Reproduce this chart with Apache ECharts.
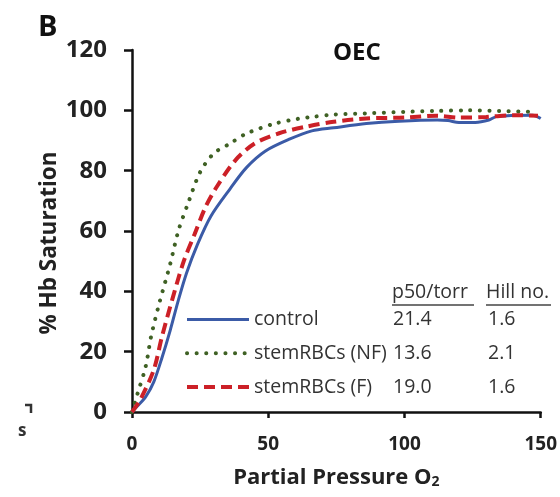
<!DOCTYPE html>
<html>
<head>
<meta charset="utf-8">
<script src="https://cdn.jsdelivr.net/npm/echarts@6/dist/echarts.min.js"></script>
<style>
html,body{margin:0;padding:0;background:#fff;}
#chart{width:560px;height:497px;}
</style>
</head>
<body>
<div id="chart"></div>
<script>
// ---- data ----
const seriesNames = ['control', 'stemRBCs (NF)', 'stemRBCs (F)'];
const p50Values = ['21.4', '13.6', '19.0'];
const hillValues = ['1.6', '2.1', '1.6'];
const tableHeaders = ['p50/torr', 'Hill no.'];
const xTicks = [0, 50, 100, 150];
const yTicks = [0, 20, 40, 60, 80, 100, 120];

const controlData = [[0,0],[2,2],[5,5],[8,10],[11,18],[14,27],[17,37],[20,46],[24,55.5],[29,65],[36,74],[42,81],[49,86.5],[58,90.5],[66,93.2],[74,94.2],[86,95.6],[98,96.4],[112,96.8],[116,96.6],[120,96],[126,96],[131,96.8],[134,98],[147,98.4],[150,97.3]];
const nfData = [[0,0],[2,6],[5,15],[7,25],[10,36],[14,49],[17,60],[20.5,69],[25,79.5],[30,85.7],[36,89],[42,92.3],[52,95.5],[61,97.2],[66,97.8],[74,98.6],[86,99],[100,99.5],[112,99.8],[123,100],[135,99.8],[148,99.5]];
const fData = [[0,0],[3,4],[8,14],[11,25],[15,38],[19,50],[23,59],[27,68],[31,74.5],[38,83.5],[45,89],[54,92.4],[64,94.6],[74,96.2],[86,97.3],[100,97.6],[112,98.2],[120,97.6],[130,97.8],[140,98.4],[149,98.2]];

const FONT = '"Open Sans", "Liberation Sans", sans-serif';
const chart = echarts.init(document.getElementById('chart'));

const colors = ['#3B5BA7', '#3F6124', '#CC2027'];
const lineStyles = [
  { color: colors[0], width: 3 },
  { color: colors[1], width: 4, type: [0.1, 9.5], cap: 'round' },
  { color: colors[2], width: 4, type: [11, 6] }
];

const tableByName = {};
seriesNames.forEach((n, i) => { tableByName[n] = [p50Values[i], hillValues[i]]; });

chart.setOption({
  backgroundColor: '#fff',
  animation: false,
  title: {
    text: 'OEC',
    left: 328, top: 36,
    textStyle: { fontFamily: FONT, fontWeight: 'bold', fontSize: 24, color: '#111' }
  },
  grid: { left: 132, right: 17, top: 50, bottom: 85, containLabel: false },
  legend: {
    orient: 'vertical',
    left: 180, top: 304,
    itemWidth: 62, itemHeight: 26, itemGap: 13,
    selectedMode: false,
    data: seriesNames.map((n, i) => ({ name: n, itemStyle: { opacity: 0 }, lineStyle: lineStyles[i] })),
    itemStyle: { opacity: 0 },
    formatter: function (name) {
      const t = tableByName[name];
      return '{a|' + name + '}{b|' + t[0] + '}{c|' + t[1] + '}';
    },
    textStyle: {
      fontFamily: FONT, fontSize: 19.5, color: '#333',
      rich: {
        a: { width: 139, fontFamily: FONT, fontSize: 19.5, color: '#333' },
        b: { width: 95, fontFamily: FONT, fontSize: 19.5, color: '#333' },
        c: { fontFamily: FONT, fontSize: 19.5, color: '#333' }
      }
    }
  },
  xAxis: {
    type: 'value', min: 0, max: 150, interval: 50,
    name: 'Partial Pressure O{sub|2}',
    nameLocation: 'middle', nameGap: 55,
    nameTextStyle: {
      fontFamily: FONT, fontWeight: 'bold', fontSize: 22, color: '#222',
      rich: {
        sub: { fontFamily: FONT, fontWeight: 'bold', fontSize: 14, color: '#222', verticalAlign: 'bottom', lineHeight: 12 }
      }
    },
    splitLine: { show: false },
    axisLine: { lineStyle: { color: '#111', width: 2.5 } },
    axisTick: { inside: false, length: 6, lineStyle: { color: '#111', width: 2.5 } },
    axisLabel: { margin: 23, fontFamily: FONT, fontWeight: 'bold', fontSize: 19, color: '#222',
      formatter: v => xTicks.includes(v) ? String(v) : '' }
  },
  yAxis: {
    type: 'value', min: 0, max: 120, interval: 20,
    splitLine: { show: false },
    axisLine: { lineStyle: { color: '#111', width: 2.5 } },
    axisTick: { inside: false, length: 8, lineStyle: { color: '#111', width: 2.5 } },
    axisLabel: { margin: 25, fontFamily: FONT, fontWeight: 'bold', fontSize: 24, color: '#222',
      formatter: v => yTicks.includes(v) ? String(v) : '' }
  },
  series: seriesNames.map((n, i) => ({
    name: n, type: 'line', data: [controlData, nfData, fData][i],
    showSymbol: false, symbol: 'none', smooth: 0.3,
    lineStyle: lineStyles[i], itemStyle: { color: colors[i] }, z: [3, 2, 4][i]
  })),
  graphic: [
    { type: 'text', left: 38, top: 13, style: { text: 'B', fontFamily: FONT, fontWeight: 'bold', fontSize: 29, fill: '#111' } },
    { type: 'text', x: 50, y: 243, rotation: Math.PI / 2,
      style: { text: '% Hb Saturation', fontFamily: FONT, fontWeight: 'bold', fontSize: 22.5, fill: '#222', align: 'center', verticalAlign: 'middle' } },
    { type: 'text', left: 392, top: 282, style: { text: tableHeaders[0], fontFamily: FONT, fontSize: 19.5, fill: '#333' } },
    { type: 'text', left: 486, top: 282, style: { text: tableHeaders[1], fontFamily: FONT, fontSize: 19.5, fill: '#333' } },
    { type: 'line', shape: { x1: 392, y1: 305, x2: 474, y2: 305 }, style: { stroke: '#444', lineWidth: 1.5 } },
    { type: 'line', shape: { x1: 486, y1: 305, x2: 551, y2: 305 }, style: { stroke: '#444', lineWidth: 1.5 } },
    { type: 'text', left: 18, top: 423, style: { text: 's', fontFamily: FONT, fontWeight: 'bold', fontSize: 17, fill: '#333' } },
    { type: 'polyline', shape: { points: [[25, 405], [31, 405], [31, 413]] }, style: { stroke: '#333', lineWidth: 2.5, fill: 'none' } }
  ]
});
</script>
</body>
</html>
